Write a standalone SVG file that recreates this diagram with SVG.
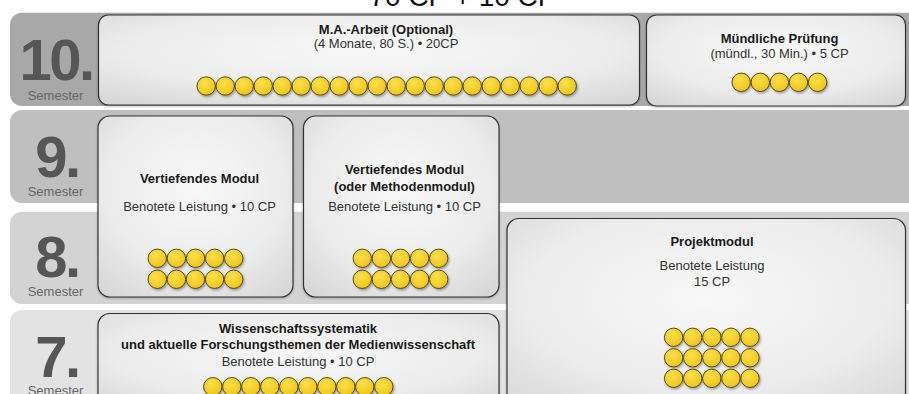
<svg xmlns="http://www.w3.org/2000/svg" xmlns:xlink="http://www.w3.org/1999/xlink" width="909" height="394" viewBox="0 0 909 394">
<style>
text{font-family:"Liberation Sans",Arial,Helvetica,sans-serif;}
.num{font-size:58px;font-weight:bold;fill:#565656;text-anchor:middle;letter-spacing:-2.5px;}
.sem{font-size:13px;fill:#666;text-anchor:middle;}
.t{font-size:13px;font-weight:bold;fill:#1a1a1a;text-anchor:middle;}
.s{font-size:13px;fill:#333;text-anchor:middle;}
.box{fill:url(#boxGrad);stroke:#333;stroke-width:1.2;}
.title{font-size:28px;fill:#111;text-anchor:middle;}
</style>
<defs>
<radialGradient id="boxGrad" cx="0.5" cy="0.4" r="0.75">
<stop offset="0" stop-color="#f8f8f8"/>
<stop offset="0.6" stop-color="#ececec"/>
<stop offset="1" stop-color="#d6d6d6"/>
</radialGradient>
<radialGradient id="coinGrad" cx="0.4" cy="0.35" r="0.7">
<stop offset="0" stop-color="#fbe04c"/>
<stop offset="1" stop-color="#eec418"/>
</radialGradient>
<filter id="sh" x="-30%" y="-30%" width="170%" height="170%">
<feDropShadow dx="1.2" dy="1.5" stdDeviation="0.9" flood-color="#000" flood-opacity="0.35"/>
</filter>
<filter id="boxSh" x="-5%" y="-5%" width="110%" height="115%">
<feDropShadow dx="0" dy="1" stdDeviation="0.8" flood-color="#000" flood-opacity="0.25"/>
</filter>
<circle id="coin" r="9.2" fill="url(#coinGrad)" stroke="#4a3c0c" stroke-width="0.9" filter="url(#sh)"/>
</defs>
<rect width="909" height="394" fill="#fff"/>
<text class="title" x="463" y="6">70 CP + 10 CP</text>

<g id="bands">
<rect x="10" y="12.7" width="940" height="93.3" rx="12" fill="#a8a8a8"/>
<rect x="10" y="110" width="940" height="93" rx="12" fill="#bfbfbf"/>
<rect x="10" y="211.7" width="940" height="92.3" rx="12" fill="#d3d3d3"/>
<rect x="10" y="310" width="940" height="100" rx="12" fill="#e3e3e3"/>
</g>

<g id="semester-10">
<text class="num" x="56" y="80">10.</text>
<text class="sem" x="55.5" y="100">Semester</text>
</g>
<g id="semester-9">
<text class="num" x="57" y="177">9.</text>
<text class="sem" x="55.5" y="196">Semester</text>
</g>
<g id="semester-8">
<text class="num" x="57" y="277">8.</text>
<text class="sem" x="55.5" y="296">Semester</text>
</g>
<g id="semester-7">
<text class="num" x="57" y="377">7.</text>
<text class="sem" x="55.5" y="395">Semester</text>
</g>

<g id="ma-arbeit">
<rect class="box" x="98.5" y="15" width="541" height="90" rx="10" filter="url(#boxSh)"/>
<text class="t" x="386" y="34">M.A.-Arbeit (Optional)</text>
<text class="s" x="386" y="48">(4 Monate, 80 S.) • 20CP</text>
<use xlink:href="#coin" x="206.2" y="86"/><use xlink:href="#coin" x="225.2" y="86"/><use xlink:href="#coin" x="244.2" y="86"/><use xlink:href="#coin" x="263.2" y="86"/><use xlink:href="#coin" x="282.2" y="86"/>
<use xlink:href="#coin" x="301.2" y="86"/><use xlink:href="#coin" x="320.2" y="86"/><use xlink:href="#coin" x="339.2" y="86"/><use xlink:href="#coin" x="358.2" y="86"/><use xlink:href="#coin" x="377.2" y="86"/>
<use xlink:href="#coin" x="396.2" y="86"/><use xlink:href="#coin" x="415.2" y="86"/><use xlink:href="#coin" x="434.2" y="86"/><use xlink:href="#coin" x="453.2" y="86"/><use xlink:href="#coin" x="472.2" y="86"/>
<use xlink:href="#coin" x="491.2" y="86"/><use xlink:href="#coin" x="510.2" y="86"/><use xlink:href="#coin" x="529.2" y="86"/><use xlink:href="#coin" x="548.2" y="86"/><use xlink:href="#coin" x="567.2" y="86"/>
</g>

<g id="muendliche-pruefung">
<rect class="box" x="646.5" y="15" width="259" height="91" rx="10" filter="url(#boxSh)"/>
<text class="t" x="779.5" y="42.7">Mündliche Prüfung</text>
<text class="s" x="779.5" y="58.3">(mündl., 30 Min.) • 5 CP</text>
<use xlink:href="#coin" x="741.2" y="82.3"/><use xlink:href="#coin" x="760.3" y="82.3"/><use xlink:href="#coin" x="779.4" y="82.3"/><use xlink:href="#coin" x="798.5" y="82.3"/><use xlink:href="#coin" x="817.6" y="82.3"/>
</g>

<g id="vertiefendes-modul-1">
<rect class="box" x="98" y="116" width="195" height="181" rx="12" filter="url(#boxSh)"/>
<text class="t" x="199.5" y="183">Vertiefendes Modul</text>
<text class="s" x="199.5" y="211">Benotete Leistung • 10 CP</text>
<use xlink:href="#coin" x="157.3" y="258.3"/><use xlink:href="#coin" x="176.4" y="258.3"/><use xlink:href="#coin" x="195.5" y="258.3"/><use xlink:href="#coin" x="214.6" y="258.3"/><use xlink:href="#coin" x="233.7" y="258.3"/>
<use xlink:href="#coin" x="157.3" y="279.3"/><use xlink:href="#coin" x="176.4" y="279.3"/><use xlink:href="#coin" x="195.5" y="279.3"/><use xlink:href="#coin" x="214.6" y="279.3"/><use xlink:href="#coin" x="233.7" y="279.3"/>
</g>

<g id="vertiefendes-modul-2">
<rect class="box" x="303.5" y="116" width="195.5" height="181" rx="12" filter="url(#boxSh)"/>
<text class="t" x="404.5" y="174">Vertiefendes Modul</text>
<text class="t" x="404.5" y="190.7">(oder Methodenmodul)</text>
<text class="s" x="404.5" y="211">Benotete Leistung • 10 CP</text>
<use xlink:href="#coin" x="362.3" y="258.3"/><use xlink:href="#coin" x="381.4" y="258.3"/><use xlink:href="#coin" x="400.5" y="258.3"/><use xlink:href="#coin" x="419.6" y="258.3"/><use xlink:href="#coin" x="438.7" y="258.3"/>
<use xlink:href="#coin" x="362.3" y="279.3"/><use xlink:href="#coin" x="381.4" y="279.3"/><use xlink:href="#coin" x="400.5" y="279.3"/><use xlink:href="#coin" x="419.6" y="279.3"/><use xlink:href="#coin" x="438.7" y="279.3"/>
</g>

<g id="projektmodul">
<rect class="box" x="507" y="218.5" width="398.5" height="200" rx="12" filter="url(#boxSh)"/>
<text class="t" x="712" y="245.7">Projektmodul</text>
<text class="s" x="712" y="270">Benotete Leistung</text>
<text class="s" x="712" y="285.7">15 CP</text>
<use xlink:href="#coin" x="673.6" y="337.3"/><use xlink:href="#coin" x="692.7" y="337.3"/><use xlink:href="#coin" x="711.8" y="337.3"/><use xlink:href="#coin" x="730.9" y="337.3"/><use xlink:href="#coin" x="750" y="337.3"/>
<use xlink:href="#coin" x="673.6" y="357.8"/><use xlink:href="#coin" x="692.7" y="357.8"/><use xlink:href="#coin" x="711.8" y="357.8"/><use xlink:href="#coin" x="730.9" y="357.8"/><use xlink:href="#coin" x="750" y="357.8"/>
<use xlink:href="#coin" x="673.6" y="378.3"/><use xlink:href="#coin" x="692.7" y="378.3"/><use xlink:href="#coin" x="711.8" y="378.3"/><use xlink:href="#coin" x="730.9" y="378.3"/><use xlink:href="#coin" x="750" y="378.3"/>
</g>

<g id="wissenschaftssystematik">
<rect class="box" x="98" y="313.5" width="401" height="100" rx="12" filter="url(#boxSh)"/>
<text class="t" x="298" y="332.7">Wissenschaftssystematik</text>
<text class="t" x="298" y="349.3">und aktuelle Forschungsthemen der Medienwissenschaft</text>
<text class="s" x="298" y="366">Benotete Leistung • 10 CP</text>
<use xlink:href="#coin" x="212.8" y="386.7"/><use xlink:href="#coin" x="231.8" y="386.7"/><use xlink:href="#coin" x="250.8" y="386.7"/><use xlink:href="#coin" x="269.8" y="386.7"/><use xlink:href="#coin" x="288.8" y="386.7"/>
<use xlink:href="#coin" x="307.8" y="386.7"/><use xlink:href="#coin" x="326.8" y="386.7"/><use xlink:href="#coin" x="345.8" y="386.7"/><use xlink:href="#coin" x="364.8" y="386.7"/><use xlink:href="#coin" x="383.8" y="386.7"/>
</g>

<g id="connectors"/>
</svg>
